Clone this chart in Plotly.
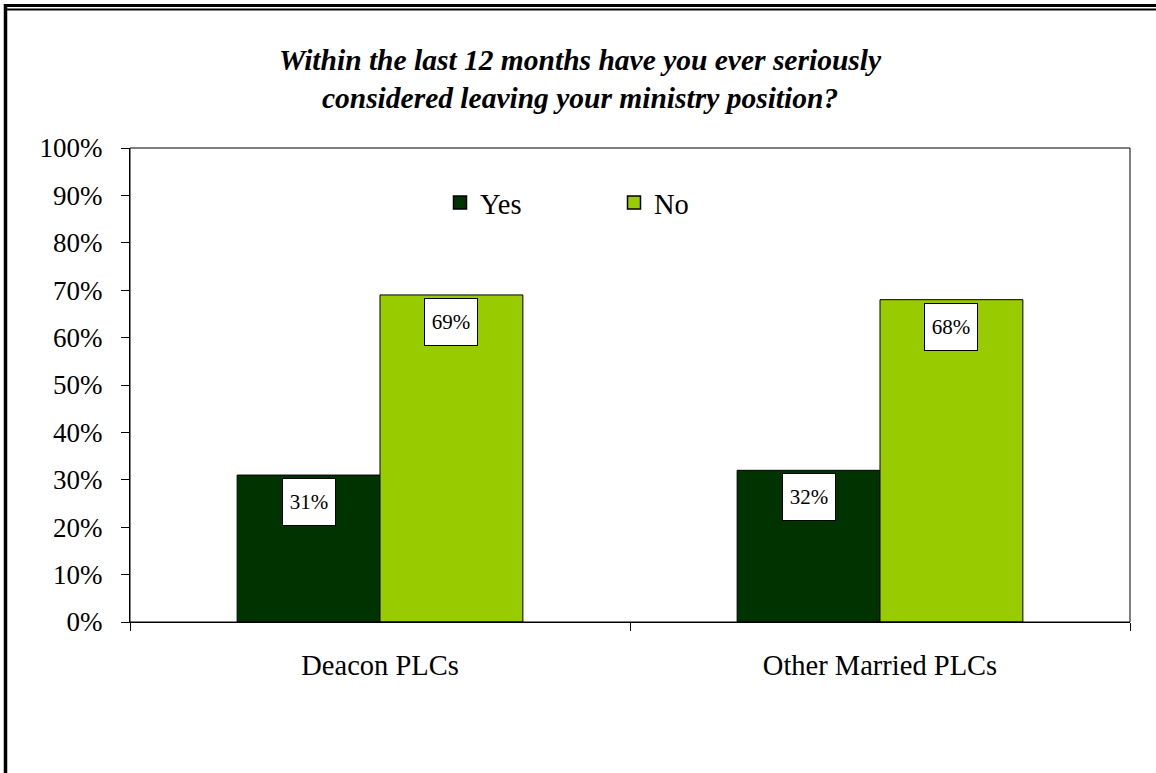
import plotly.graph_objects as go

categories = ["Deacon PLCs", "Other Married PLCs"]
yes_vals = [0.31, 0.32]
no_vals = [0.69, 0.68]
series_names = ["Yes", "No"]
title_text = "Within the last 12 months have you ever seriously<br>considered leaving your ministry position?"

W, H = 1156, 773
L, R, T, B = 130, 26, 148, 151
PW, PH = W - L - R, H - T - B

def px(x):
    return (x - L) / PW

def py(y):
    return (H - B - y) / PH

FONT = "Liberation Serif"
YES_C = "#003300"
NO_C = "#99CC00"
colors = [YES_C, NO_C]

fig = go.Figure()
fig.add_trace(go.Bar(name=series_names[0], x=categories, y=yes_vals, showlegend=False,
                     marker=dict(color=YES_C, line=dict(color="black", width=1))))
fig.add_trace(go.Bar(name=series_names[1], x=categories, y=no_vals, showlegend=False,
                     marker=dict(color=NO_C, line=dict(color="black", width=1))))
# legend swatches (square with black outline, like the original)
for name, c in zip(series_names, colors):
    fig.add_trace(go.Scatter(x=[None], y=[None], mode="markers", name=name,
                             marker=dict(symbol="square", size=13, color=c,
                                         line=dict(color="black", width=1.5))))

bargap = 1.5 / 3.5
bw = (1 - bargap) / 2
annotations = []
for i, cat in enumerate(categories):
    for off, vals in ((-bw / 2, yes_vals), (bw / 2, no_vals)):
        annotations.append(dict(
            x=i + off, y=vals[i], xref="x", yref="y",
            text=f"{round(vals[i]*100)}%", showarrow=False,
            yanchor="top", yshift=-3,
            font=dict(family=FONT, size=21, color="black"),
            bgcolor="white", bordercolor="black", borderwidth=1,
            borderpad=0, width=52, height=46,
        ))

annotations.append(dict(
    x=px(580), y=py(79), xref="paper", yref="paper",
    text=f"<b><i>{title_text}</i></b>", showarrow=False,
    xanchor="center", yanchor="middle", align="center",
    font=dict(family=FONT, size=29.5, color="black"),
))

shapes = [
    dict(type="rect", xref="paper", yref="paper", x0=0, x1=1, y0=0, y1=1,
         line=dict(color="black", width=1), layer="above"),
    dict(type="line", xref="paper", yref="paper", x0=px(4), x1=px(1160), y0=py(5.5), y1=py(5.5),
         line=dict(color="black", width=3)),
    dict(type="line", xref="paper", yref="paper", x0=px(7), x1=px(1160), y0=py(9.5), y1=py(9.5),
         line=dict(color="black", width=2)),
    dict(type="line", xref="paper", yref="paper", x0=px(5.5), x1=px(5.5), y0=py(4), y1=py(780),
         line=dict(color="black", width=3.5)),
]

fig.update_layout(
    width=W, height=H,
    margin=dict(l=L, r=R, t=T, b=B, autoexpand=False),
    paper_bgcolor="white", plot_bgcolor="white",
    barmode="group", bargap=bargap, bargroupgap=0,
    font=dict(family=FONT, size=27, color="black"),
    showlegend=True,
    legend=dict(orientation="h", x=px(440), y=py(203), xanchor="left", yanchor="middle",
                font=dict(family=FONT, size=28.5, color="black"),
                bgcolor="rgba(0,0,0,0)", entrywidth=129, entrywidthmode="pixels",
                itemclick=False),
    annotations=annotations,
    shapes=shapes,
    xaxis=dict(type="category", range=[-0.5, 1.5], showline=True, linecolor="black",
               linewidth=1, ticks="outside", ticklen=8, tickcolor="black",
               tickson="boundaries", showgrid=False, ticklabelstandoff=18,
               tickfont=dict(family=FONT, size=28.5)),
    yaxis=dict(range=[0, 1], dtick=0.1, tickformat=".0%", showline=True, linecolor="black",
               linewidth=1, ticks="outside", ticklen=8, tickcolor="black",
               showgrid=False, zeroline=False, ticklabelstandoff=13,
               tickfont=dict(family=FONT, size=27)),
)

fig.write_html("out.html", config={"displayModeBar": False},
               post_script="document.body.style.margin='0';")
